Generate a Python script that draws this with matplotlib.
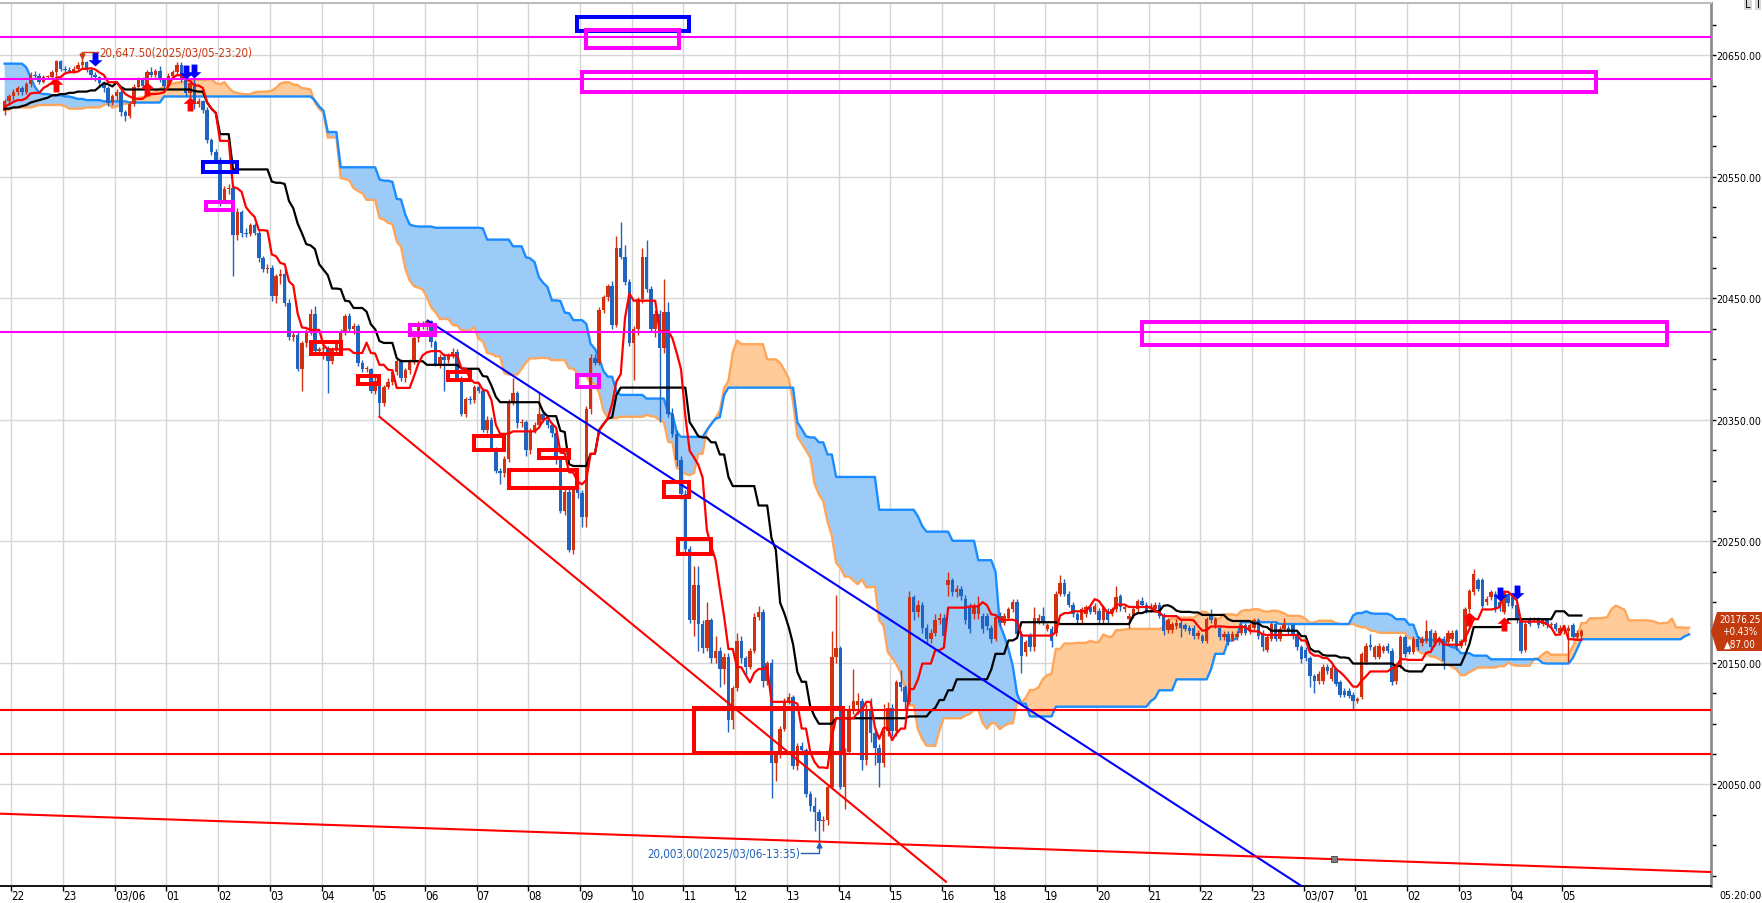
import numpy as np
import pandas as pd
import matplotlib
matplotlib.use("Agg")
from matplotlib import pyplot as plt
from matplotlib import font_manager
from matplotlib.font_manager import FontProperties
from matplotlib.patches import Rectangle, Polygon
from matplotlib.path import Path
from matplotlib.ticker import MultipleLocator
from matplotlib.transforms import ScaledTranslation

up_colour = "#d2300f"
down_colour = "#1f64c0"

# 5 minute bars, slot 0 = 03/05 22:00 (the 17:00 hour is not traded)
first_slot = -2
opens = [
    20604, 20612, 20616, 20620, 20623, 20620, 20626, 20634, 20633, 20628,
    20632, 20632, 20636, 20645, 20639, 20638, 20637, 20639, 20642, 20644,
    20638, 20634, 20632, 20627, 20623, 20611, 20616, 20620, 20603, 20600,
    20610, 20624, 20630, 20625, 20636, 20634, 20637, 20630, 20625, 20633,
    20636, 20642, 20630, 20619, 20627, 20610, 20612, 20605, 20580, 20570,
    20564, 20531, 20540, 20541, 20502, 20521, 20504, 20503, 20510, 20504,
    20483, 20474, 20475, 20452, 20468, 20470, 20446, 20418, 20420, 20392,
    20413, 20423, 20437, 20407, 20408, 20409, 20398, 20408, 20414, 20423,
    20435, 20425, 20427, 20397, 20392, 20392, 20374, 20382, 20364, 20377,
    20381, 20389, 20398, 20384, 20391, 20398, 20417, 20429, 20430, 20431,
    20414, 20396, 20402, 20399, 20403, 20406, 20384, 20355, 20367, 20366,
    20377, 20374, 20342, 20350, 20326, 20308, 20306, 20318, 20365, 20372,
    20347, 20348, 20325, 20341, 20346, 20355, 20350, 20346, 20339, 20317,
    20275, 20291, 20243, 20292, 20290, 20270, 20359, 20401, 20397, 20440,
    20451, 20460, 20428, 20491, 20484, 20463, 20413, 20425, 20449, 20484,
    20458, 20425, 20437, 20409, 20439, 20355, 20338, 20317, 20289, 20244,
    20185, 20214, 20182, 20162, 20185, 20154, 20160, 20145, 20155, 20103,
    20129, 20168, 20154, 20147, 20160, 20188, 20192, 20135, 20150, 20068,
    20074, 20096, 20119, 20122, 20065, 20082, 20078, 20042, 20032, 20027,
    20020, 20021, 20048, 20155, 20162, 20048, 20077, 20112, 20115, 20119,
    20070, 20112, 20092, 20080, 20068, 20094, 20113, 20094, 20134, 20130,
    20118, 20204, 20192, 20198, 20179, 20170, 20175, 20185, 20187, 20214,
    20218, 20208, 20211, 20203, 20197, 20190, 20190, 20189, 20189, 20179,
    20170, 20189, 20183, 20187, 20194, 20200, 20174, 20159, 20172, 20163,
    20184, 20189, 20178, 20178, 20175, 20207, 20216, 20207, 20198, 20190,
    20185, 20190, 20196, 20192, 20193, 20185, 20193, 20191, 20194, 20205,
    20194, 20186, 20189, 20194, 20201, 20198, 20194, 20194, 20198, 20189,
    20177, 20177, 20180, 20183, 20181, 20179, 20179, 20172, 20172, 20168,
    20189, 20181, 20179, 20171, 20174, 20170, 20171, 20175, 20181, 20176,
    20179, 20185, 20175, 20161, 20170, 20182, 20170, 20178, 20179, 20181,
    20174, 20163, 20161, 20154, 20139, 20135, 20135, 20147, 20137, 20145,
    20134, 20127, 20127, 20124, 20119, 20122, 20151, 20165, 20155, 20155,
    20160, 20164, 20160, 20135, 20148, 20171, 20163, 20159, 20170, 20166,
    20168, 20176, 20166, 20167, 20170, 20167, 20170, 20176, 20164, 20167,
    20194, 20208, 20218, 20218, 20200, 20204, 20207, 20200, 20192, 20207,
    20204, 20198, 20185, 20161, 20186, 20185, 20186, 20182, 20185, 20181,
    20182, 20175, 20176, 20176, 20181, 20171, 20172,
]
highs = [
    20614, 20618, 20622, 20625, 20625, 20628, 20636, 20637, 20635, 20634,
    20634, 20638, 20646, 20646, 20641, 20640, 20641, 20644, 20647.5, 20645,
    20640, 20636, 20633, 20629, 20625, 20618, 20622, 20621, 20605, 20612,
    20626, 20632, 20632, 20638, 20640, 20639, 20641, 20631, 20635, 20638,
    20644, 20644, 20631, 20629, 20633, 20615, 20613, 20607, 20582, 20573,
    20566, 20542, 20544, 20543, 20524, 20523, 20508, 20512, 20512, 20506,
    20485, 20478, 20477, 20470, 20474, 20474, 20449, 20423, 20422, 20415,
    20425, 20441, 20444, 20410, 20412, 20411, 20410, 20416, 20425, 20437,
    20438, 20430, 20429, 20399, 20394, 20393, 20385, 20384, 20379, 20384,
    20391, 20400, 20400, 20393, 20400, 20419, 20431, 20431, 20432, 20432,
    20416, 20404, 20405, 20405, 20409, 20408, 20386, 20369, 20370, 20379,
    20380, 20376, 20353, 20352, 20328, 20310, 20320, 20367, 20384, 20374,
    20351, 20350, 20343, 20348, 20373, 20358, 20354, 20348, 20341, 20319,
    20293, 20293, 20294, 20303, 20292, 20361, 20404, 20404, 20443, 20453,
    20462, 20464, 20501, 20513, 20494, 20466, 20427, 20451, 20491, 20498,
    20460, 20440, 20440, 20466, 20447, 20360, 20342, 20320, 20292, 20246,
    20230, 20230, 20185, 20200, 20187, 20172, 20163, 20158, 20158, 20131,
    20175, 20172, 20156, 20162, 20191, 20197, 20194, 20152, 20153, 20076,
    20098, 20121, 20125, 20124, 20084, 20085, 20080, 20045, 20040, 20030,
    20024, 20050, 20176, 20206, 20164, 20080, 20115, 20145, 20125, 20121,
    20116, 20121, 20096, 20083, 20116, 20118, 20116, 20136, 20144, 20132,
    20209, 20206, 20202, 20200, 20182, 20178, 20190, 20191, 20190, 20225,
    20220, 20214, 20213, 20206, 20199, 20199, 20205, 20191, 20191, 20181,
    20190, 20192, 20191, 20196, 20203, 20203, 20176, 20169, 20175, 20196,
    20190, 20196, 20183, 20180, 20209, 20222, 20219, 20209, 20200, 20192,
    20196, 20198, 20198, 20199, 20195, 20198, 20195, 20196, 20213, 20207,
    20198, 20191, 20196, 20203, 20204, 20200, 20199, 20200, 20200, 20191,
    20187, 20184, 20186, 20185, 20183, 20181, 20181, 20177, 20174, 20188,
    20194, 20188, 20181, 20176, 20176, 20176, 20176, 20183, 20183, 20183,
    20187, 20187, 20177, 20173, 20184, 20184, 20180, 20187, 20181, 20183,
    20176, 20165, 20163, 20156, 20141, 20143, 20149, 20149, 20148, 20147,
    20136, 20129, 20129, 20126, 20122, 20159, 20166, 20174, 20165, 20166,
    20165, 20166, 20162, 20150, 20173, 20173, 20165, 20172, 20172, 20172,
    20185, 20178, 20177, 20172, 20172, 20177, 20177, 20178, 20170, 20196,
    20211, 20227, 20220, 20220, 20205, 20210, 20209, 20202, 20210, 20209,
    20206, 20200, 20187, 20184, 20188, 20188, 20188, 20187, 20187, 20184,
    20184, 20181, 20181, 20181, 20183, 20177, 20178,
]
lows = [
    20601, 20609, 20613, 20617, 20617, 20618, 20624, 20630, 20626, 20627,
    20630, 20630, 20633, 20637, 20636, 20635, 20635, 20637, 20639, 20636,
    20631, 20629, 20624, 20620, 20608, 20609, 20613, 20600, 20596, 20598,
    20608, 20622, 20623, 20623, 20632, 20632, 20628, 20623, 20624, 20631,
    20634, 20628, 20616, 20614, 20606, 20607, 20602, 20578, 20568, 20561,
    20526, 20528, 20536, 20468, 20498, 20500, 20500, 20501, 20502, 20480,
    20472, 20471, 20448, 20446, 20462, 20444, 20416, 20415, 20390, 20374,
    20410, 20420, 20404, 20403, 20400, 20372, 20396, 20405, 20412, 20420,
    20423, 20421, 20394, 20389, 20389, 20372, 20371, 20352.5, 20361, 20375,
    20379, 20387, 20382, 20381, 20388, 20396, 20414, 20425, 20424, 20410,
    20394, 20393, 20374, 20397, 20401, 20382, 20353, 20352, 20363, 20364,
    20372, 20340, 20339, 20324, 20306, 20297, 20303, 20315, 20362, 20343,
    20344, 20320, 20322, 20339, 20344, 20348, 20343, 20336, 20314, 20273,
    20272, 20241, 20240, 20286, 20262, 20262, 20355, 20395, 20395, 20438,
    20448, 20425, 20426, 20482, 20461, 20411, 20383, 20420, 20446, 20455,
    20423, 20418, 20348, 20405, 20352, 20336, 20312, 20285, 20240, 20183,
    20172, 20160, 20158, 20160, 20150, 20150, 20130, 20133, 20093, 20096,
    20127, 20150, 20140, 20145, 20158, 20185, 20130, 20132, 20039, 20053,
    20072, 20094, 20116, 20063, 20062, 20074, 20040, 20028, 20012, 20003,
    20012, 20017, 20046, 20150, 20046, 20030, 20075, 20108, 20108, 20062,
    20066, 20085, 20066, 20048, 20064, 20090, 20090, 20090, 20127, 20112,
    20116, 20185, 20188, 20175, 20166, 20166, 20172, 20182, 20168, 20205,
    20205, 20204, 20202, 20182, 20175, 20186, 20186, 20175, 20177, 20166,
    20168, 20180, 20181, 20185, 20192, 20172, 20142, 20156, 20160, 20160,
    20182, 20181, 20176, 20163, 20172, 20205, 20205, 20196, 20188, 20183,
    20183, 20188, 20190, 20190, 20183, 20183, 20183, 20189, 20192, 20193,
    20192, 20179, 20187, 20192, 20196, 20191, 20192, 20192, 20187, 20173,
    20175, 20175, 20178, 20171, 20176, 20174, 20170, 20170, 20166, 20166,
    20183, 20179, 20169, 20169, 20165, 20168, 20169, 20173, 20173, 20174,
    20177, 20170, 20160, 20159, 20168, 20168, 20168, 20176, 20174, 20170,
    20161, 20150, 20152, 20130, 20125, 20133, 20133, 20141, 20135, 20131,
    20122, 20122, 20121, 20112, 20117, 20120, 20149, 20161, 20153, 20153,
    20158, 20158, 20132, 20133, 20146, 20155, 20157, 20157, 20161, 20164,
    20166, 20161, 20164, 20165, 20145, 20165, 20168, 20161, 20162, 20165,
    20192, 20206, 20209, 20195, 20198, 20202, 20192, 20193, 20190, 20197,
    20195, 20183, 20158, 20159, 20180, 20184, 20179, 20180, 20179, 20179,
    20176, 20173, 20174, 20151, 20169, 20169, 20170,
]
closes = [
    20612, 20616, 20620, 20623, 20620, 20626, 20634, 20633, 20628, 20632,
    20632, 20636, 20645, 20639, 20638, 20637, 20639, 20642, 20644, 20638,
    20634, 20632, 20627, 20623, 20611, 20616, 20620, 20603, 20600, 20610,
    20624, 20630, 20625, 20636, 20634, 20637, 20630, 20625, 20633, 20636,
    20642, 20630, 20619, 20627, 20610, 20612, 20605, 20580, 20570, 20564,
    20531, 20540, 20541, 20502, 20521, 20504, 20503, 20510, 20504, 20483,
    20474, 20475, 20452, 20468, 20470, 20446, 20418, 20420, 20392, 20413,
    20423, 20437, 20407, 20408, 20409, 20398, 20408, 20414, 20423, 20435,
    20425, 20427, 20397, 20392, 20392, 20374, 20382, 20364, 20377, 20381,
    20389, 20398, 20384, 20391, 20398, 20417, 20429, 20430, 20431, 20414,
    20396, 20402, 20399, 20403, 20406, 20384, 20355, 20367, 20366, 20377,
    20374, 20342, 20350, 20326, 20308, 20306, 20318, 20365, 20372, 20347,
    20348, 20325, 20341, 20346, 20355, 20350, 20346, 20339, 20317, 20275,
    20291, 20243, 20292, 20290, 20270, 20359, 20401, 20397, 20440, 20451,
    20460, 20428, 20491, 20484, 20463, 20413, 20425, 20449, 20484, 20458,
    20425, 20437, 20409, 20439, 20355, 20338, 20317, 20289, 20244, 20185,
    20214, 20182, 20162, 20185, 20154, 20160, 20145, 20155, 20103, 20129,
    20168, 20154, 20147, 20160, 20188, 20192, 20135, 20150, 20068, 20074,
    20096, 20119, 20122, 20065, 20082, 20078, 20042, 20032, 20027, 20020,
    20021, 20048, 20155, 20162, 20048, 20077, 20112, 20119, 20119, 20070,
    20112, 20092, 20080, 20068, 20094, 20113, 20094, 20134, 20130, 20118,
    20204, 20192, 20198, 20179, 20170, 20175, 20185, 20187, 20172, 20218,
    20208, 20211, 20205, 20185, 20178, 20197, 20198, 20178, 20180, 20170,
    20188, 20183, 20189, 20194, 20200, 20174, 20156, 20167, 20163, 20187,
    20187, 20183, 20181, 20168, 20207, 20216, 20207, 20198, 20190, 20185,
    20194, 20196, 20192, 20197, 20185, 20196, 20185, 20194, 20204, 20196,
    20196, 20189, 20194, 20201, 20198, 20193, 20197, 20198, 20189, 20176,
    20185, 20182, 20183, 20179, 20178, 20176, 20172, 20175, 20168, 20186,
    20185, 20186, 20171, 20174, 20167, 20174, 20174, 20181, 20175, 20181,
    20185, 20172, 20163, 20171, 20182, 20170, 20178, 20182, 20176, 20172,
    20163, 20153, 20154, 20139, 20135, 20141, 20147, 20143, 20146, 20133,
    20124, 20124, 20123, 20119, 20120, 20157, 20164, 20163, 20163, 20164,
    20163, 20160, 20134, 20148, 20171, 20157, 20159, 20170, 20163, 20170,
    20176, 20163, 20175, 20169, 20152, 20175, 20175, 20163, 20168, 20194,
    20209, 20223, 20211, 20197, 20203, 20208, 20194, 20195, 20208, 20199,
    20197, 20185, 20160, 20182, 20182, 20186, 20181, 20185, 20181, 20182,
    20178, 20179, 20179, 20179, 20171, 20175, 20176.25,
]

# parts of the ichimoku lines that depend on bars before the visible window
kijun_head = [20606, 20606, 20607, 20607, 20608, 20609, 20611, 20612, 20613, 20614,
              20615, 20617, 20617, 20618, 20618, 20619, 20619, 20620, 20620, 20620,
              20621, 20621, 20624, 20627, 20626]                      # bars -2..22
lead_a_head = [20605, 20605, 20607, 20607, 20607, 20607, 20607, 20608, 20609, 20609,
               20609, 20609, 20609, 20609, 20608, 20606, 20606, 20606, 20606, 20607,
               20607, 20607, 20607, 20609, 20610]                     # slots -2..22
lead_b_head = [20643, 20643, 20643, 20643, 20643, 20640, 20632, 20624, 20619, 20618,
               20618, 20617, 20617, 20617, 20616, 20616, 20615, 20614, 20614, 20613,
               20613, 20613, 20613, 20612, 20612, 20612, 20612, 20612, 20612, 20611,
               20611, 20611, 20611, 20611, 20611, 20611, 20611, 20616, 20616, 20616,
               20616, 20616, 20616, 20616, 20616, 20616, 20616, 20616, 20616, 20616,
               20616, 20616, 20616, 20616, 20616, 20616, 20616, 20616, 20616, 20616,
               20616, 20616, 20616, 20616, 20616, 20616, 20616, 20616, 20616, 20616,
               20616, 20616]                                          # slots -2..69

hour_labels = ["22", "23", "03/06", "01", "02", "03", "04", "05", "06", "07", "08",
               "09", "10", "11", "12", "13", "14", "15", "16", "18", "19", "20",
               "21", "22", "23", "03/07", "01", "02", "03", "04", "05"]
hour_slots = [0, 12, 24, 36, 48, 60, 72, 84, 96, 108, 120, 132, 144, 156, 168, 180,
              192, 204, 216, 228, 240, 252, 264, 276, 288, 300, 312, 324, 336, 348, 360]

# signal arrows (slot, price)
buy_x = [10, 31, 41, 338, 346]
buy_y = [20625.3, 20622, 20609.7, 20186, 20182.3]
sell_x = [19, 40, 42, 345, 349]
sell_y = [20646.7, 20636, 20637, 20206.7, 20208.6]

# drawn objects
hline_prices = [20665, 20630.4, 20422.5, 20111, 20075]
hline_colours = ["#ff00ff", "#ff00ff", "#ff00ff", "#ff0000", "#ff0000"]

trend_x = [[85, 216.5], [96.2, 300.3], [-3.1, 394.1]]
trend_y = [[20352.5, 19970], [20431.6, 19963.6], [20026, 19978]]
trend_colours = ["#ff0000", "#0000ff", "#ff0000"]

rect_x0 = [130.9, 133.0, 132.0, 261.9, 44.0, 44.8, 69.1, 80.0, 92.1, 100.8, 106.9, 122.0, 115.1, 130.8, 151.1, 154.2, 158.1]
rect_x1 = [156.9, 154.6, 367.5, 383.9, 52.0, 51.1, 76.1, 84.9, 97.9, 106.0, 114.0, 128.9, 130.8, 136.0, 156.8, 161.9, 192.7]
rect_y0 = [20670.0, 20656.2, 20619.3, 20411.6, 20554.2, 20522.6, 20404.2, 20379.5, 20419.8, 20382.8, 20324.8, 20318.6, 20294.0, 20377.3, 20286.6, 20239.6, 20076.3]
rect_y1 = [20681.7, 20670.6, 20636.4, 20430.8, 20562.3, 20528.9, 20413.7, 20386.3, 20428.0, 20389.5, 20336.8, 20325.1, 20308.5, 20386.6, 20298.9, 20252.1, 20112.7]
rect_colours = ["#0000ff", "#ff00ff", "#ff00ff", "#ff00ff", "#0000ff", "#ff00ff",
                "#ff0000", "#ff0000", "#ff00ff", "#ff0000", "#ff0000", "#ff0000",
                "#ff0000", "#ff00ff", "#ff0000", "#ff0000", "#ff0000"]


def find_narrow_font():
    found = []
    for f in font_manager.fontManager.ttflist:
        n = f.name.lower()
        if "mono" in n or ("serif" in n and "sans" not in n) or "cjk" in n:
            continue
        narrow = "narrow" in n or "condensed" in n or f.stretch in ("condensed", "semi-condensed", "extra-condensed")
        if narrow and f.style == "normal" and str(f.weight) in ("400", "normal", "regular", "book"):
            found.append(f)
    order = ["liberation", "dejavu", "roboto", "open sans", "noto sans", "lato", "inter"]

    def rank(f):
        n = f.name.lower()
        for i, key in enumerate(order):
            if key in n:
                return i
        return len(order)
    found.sort(key=rank)
    return found[0].fname if found else None


narrow_path = find_narrow_font()


def font(size):
    if narrow_path:
        return FontProperties(fname=narrow_path, size=size)
    return FontProperties(family="Liberation Sans", size=size)


def px_fig(x, y):
    return x / 1762, 1 - y / 904


fig = plt.figure(figsize=(17.62, 9.04), dpi=100)
renderer = fig.canvas.get_renderer()


def fit(sample, target_px):
    # font size (pt) that makes the sample string target_px wide
    w = renderer.get_text_width_height_descent(sample, font(10), ismath=False)[0]
    return 10 * target_px / w


y_size = fit("20650.00", 45)
x_size = min(fit("03/06", 30), 11)
ann_size = fit("20,647.50(2025/03/05-23:20)", 154)
tag_size = fit("20176.25", 42)
time_size = fit("05:20:00", 43)

ax = fig.add_axes([0, 17 / 904, 1711 / 1762, 883 / 904])
ax.set_xlim(-3.09, 394.08)
ax.set_ylim(19966.5, 20692.9)

slots = np.arange(first_slot, first_slot + len(closes))
o, h, l, c = (np.array(v, dtype=float) for v in (opens, highs, lows, closes))

# ichimoku
hi, lo = pd.Series(h), pd.Series(l)


def midline(n):
    return ((hi.rolling(n, min_periods=1).max() + lo.rolling(n, min_periods=1).min()) / 2).values


tenkan = midline(9)
kijun = midline(26)
kijun[:len(kijun_head)] = kijun_head
span_a = (tenkan + kijun) / 2
span_b = midline(52)
lead_x = np.arange(first_slot, first_slot + len(closes) + 25)
lead_a = np.concatenate([lead_a_head, span_a])
lead_b = np.concatenate([lead_b_head, span_b[len(lead_b_head) - 25:]])

ax.fill_between(lead_x, lead_a, lead_b, where=lead_a >= lead_b, interpolate=True,
                color="#ffcc99", lw=0, zorder=1)
ax.fill_between(lead_x, lead_a, lead_b, where=lead_a < lead_b, interpolate=True,
                color="#9ccbf8", lw=0, zorder=1)
ax.plot(lead_x, lead_a, color="#ffa65a", lw=1.7, zorder=2)
ax.plot(lead_x, lead_b, color="#1a8cff", lw=1.7, zorder=2)

# candles
up = c >= o
body = np.maximum(np.abs(c - o), 0.7)
for mask, col in ((up, up_colour), (~up, down_colour)):
    ax.vlines(slots[mask], l[mask], h[mask], color=col, lw=1.0, zorder=4)
    ax.bar(slots[mask], body[mask], bottom=np.minimum(o, c)[mask], width=0.8,
           color=col, lw=0, zorder=4)

ax.plot(slots, kijun, color="black", lw=1.6, zorder=5)
ax.plot(slots, tenkan, color="#ff0000", lw=1.6, zorder=5)

# signals
up_arrow = Path([(0, 1), (1, 0.1), (0.42, 0.1), (0.42, -1), (-0.42, -1), (-0.42, 0.1), (-1, 0.1), (0, 1)])
down_arrow = Path([(0, -1), (1, -0.1), (0.42, -0.1), (0.42, 1), (-0.42, 1), (-0.42, -0.1), (-1, -0.1), (0, -1)])
ax.plot(buy_x, buy_y, ls="none", marker=up_arrow, ms=10, color="#ff0000", mew=0, zorder=7)
ax.plot(sell_x, sell_y, ls="none", marker=down_arrow, ms=10, color="#0000ff", mew=0, zorder=7)

# drawings
for p, col in zip(hline_prices, hline_colours):
    ax.axhline(p, color=col, lw=1.5, zorder=6)
for xs, ys, col in zip(trend_x, trend_y, trend_colours):
    ax.plot(xs, ys, color=col, lw=1.5, zorder=6)
ax.plot([306.6], [19988.5], marker="s", ms=4, color="#808080", mec="#404040", mew=0.6, zorder=7)
for x0, x1, y0, y1, col in zip(rect_x0, rect_x1, rect_y0, rect_y1, rect_colours):
    ax.add_patch(Rectangle((x0, y0), x1 - x0, y1 - y0, fill=False, ec=col, lw=2.9,
                           joinstyle="miter", zorder=6))

# high / low labels
hi_slot = int(np.argmax(h)) + first_slot
lo_slot = int(np.argmin(l)) + first_slot
ax.plot([hi_slot + 3.7, hi_slot, hi_slot], [20652.4, 20652.4, 20650.2], color="#cc3a14", lw=1, zorder=7)
ax.plot([hi_slot], [20649.6], marker="v", ms=3.5, color="#cc3a14", zorder=7)
ax.text(hi_slot + 3.9, 20652.4, "20,647.50(2025/03/05-23:20)", color="#cc3a14",
        fontproperties=font(ann_size), va="center", ha="left", zorder=8)
ax.plot([lo_slot - 4.2, lo_slot, lo_slot], [19993.6, 19993.6, 19999.5], color="#1f62b8", lw=1, zorder=7)
ax.plot([lo_slot], [20000.2], marker="^", ms=3.5, color="#1f62b8", zorder=7)
ax.text(lo_slot - 4.4, 19993.6, "20,003.00(2025/03/06-13:35)", color="#1f62b8",
        fontproperties=font(ann_size), va="center", ha="right", zorder=8)

# axes styling
ax.set_xticks(np.array(hour_slots) - 0.45, hour_labels)
shift = ScaledTranslation(1.5 / 72, 0, fig.dpi_scale_trans)
for lbl in ax.get_xticklabels():
    lbl.set_ha("left")
    lbl.set_fontproperties(font(x_size))
    lbl.set_transform(lbl.get_transform() + shift)
ax.tick_params(axis="x", direction="out", length=3.6, width=1, pad=-1.5)
ax.yaxis.tick_right()
yt = np.arange(20050, 20651, 100)
ax.set_yticks(yt, [f"{v:.2f}" for v in yt])
for lbl in ax.get_yticklabels():
    lbl.set_fontproperties(font(y_size))
ax.yaxis.set_minor_locator(MultipleLocator(25))
ax.tick_params(axis="y", which="both", direction="out", length=3.6, width=1, pad=0.5)
ax.grid(True, which="major", color="#d6d6d6", lw=1.0, zorder=0)
ax.set_axisbelow(True)
ax.spines["left"].set_visible(False)
ax.spines["top"].set_color("#bdbdbd")
ax.spines["top"].set_linewidth(1.5)
ax.spines["right"].set_color("#8c8c8c")
ax.spines["right"].set_linewidth(2)
ax.spines["bottom"].set_color("black")
ax.spines["bottom"].set_linewidth(1.3)

# current price tag
tag = [px_fig(1711, 632.5), px_fig(1717, 613), px_fig(1762, 613), px_fig(1762, 652), px_fig(1717, 652)]
fig.add_artist(Polygon(tag, closed=True, transform=fig.transFigure, color="#c23a0e", lw=0))
for txt, yy in (("20176.25", 620.5), ("+0.43%", 632.5), ("\u25b287.00", 644.5)):
    fig.text(*px_fig(1740, yy), txt, color="white", fontproperties=font(tag_size),
             ha="center", va="center")

fig.text(*px_fig(1740, 896), "05:20:00", fontproperties=font(time_size), ha="center", va="center")
fig.text(*px_fig(1748, 5), "L", fontsize=7, ha="center", va="center",
         bbox=dict(boxstyle="square,pad=0.15", fc="#d8d8d8", ec="none"))
fig.text(*px_fig(1758, 5), "I", fontsize=7, ha="center", va="center",
         bbox=dict(boxstyle="square,pad=0.15", fc="#d8d8d8", ec="none"))

fig.savefig("out.png", dpi=100)
